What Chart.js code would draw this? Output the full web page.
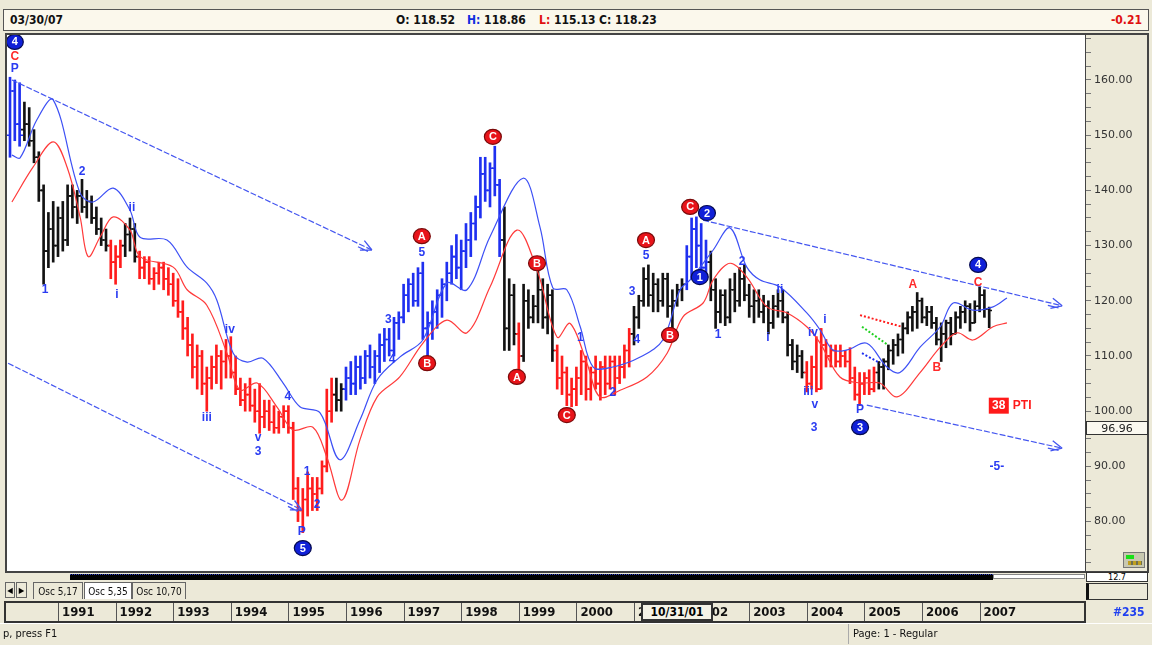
<!DOCTYPE html>
<html><head><meta charset="utf-8">
<script src="https://cdn.jsdelivr.net/npm/chart.js@4.4.1/dist/chart.umd.min.js"></script>
<style>
html,body{margin:0;padding:0;width:1152px;height:645px;overflow:hidden;background:#ECE9D8;}
#wrap{position:relative;width:1152px;height:645px;background:#ECE9D8;font-family:'DejaVu Sans','Liberation Sans',sans-serif;font-stretch:condensed;}
#c{position:absolute;left:0;top:0;}
.ab{position:absolute;white-space:nowrap;}
#hdr{left:3px;top:9px;width:1146px;height:22px;background:#FBF8EC;border:1px solid #555;box-sizing:border-box;font-size:12px;font-weight:bold;color:#111;font-stretch:condensed;}
#hdr span{position:absolute;top:3px;white-space:nowrap;}
.tab{position:absolute;top:582px;height:17px;border:1px solid #666;border-bottom:none;font-size:10px;line-height:17px;padding:0 2px;box-sizing:border-box;background:#ECE9D8;color:#111;white-space:nowrap;overflow:hidden;text-align:center;}
</style></head>
<body><div id="wrap">
<canvas id="c" width="1152" height="645"></canvas>
<div id="hdr" class="ab">
  <span style="left:6px">03/30/07</span>
  <span style="left:392px">O: 118.52</span>
  <span style="left:463px"><b style="color:#1030e0">H:</b> 118.86</span>
  <span style="left:535px"><b style="color:#e01010">L:</b> 115.13</span>
  <span style="left:595px">C: 118.23</span>
  <span style="right:6px;color:#e01010">-0.21</span>
</div>
<div class="ab" style="left:70px;top:574px;width:923px;height:5px;background:#000;border-top:1px dotted #3040c0"></div>
<div class="ab" style="left:993px;top:574px;width:92px;height:5px;background:#fff;border:1px solid #888;box-sizing:border-box"></div>
<div class="ab" style="left:5px;top:582px;width:10px;height:16px;border:1px solid #666;font-size:8px;line-height:16px;text-align:center;box-sizing:border-box">&#9664;</div>
<div class="ab" style="left:16px;top:582px;width:11px;height:16px;border:1px solid #666;font-size:8px;line-height:16px;text-align:center;box-sizing:border-box">&#9654;</div>
<div class="tab" style="left:33px;width:50px">Osc 5,17</div>
<div class="tab" style="left:84px;width:48px;background:#fff">Osc 5,35</div>
<div class="tab" style="left:132px;width:54px">Osc 10,70</div>
<div class="ab" style="left:1086px;top:572px;width:62px;height:10px;border:1px solid #333;font-size:9px;line-height:9px;text-align:center;box-sizing:border-box;background:#fff">12.7</div>
<div class="ab" style="left:1086px;top:583px;width:62px;height:17px;border:1px solid #333;border-left:3px solid #111;box-sizing:border-box"></div>
<div class="ab" style="left:1123px;top:552px;width:22px;height:16px;background:#c8c8b0;border:1px solid #777;box-sizing:border-box;overflow:hidden"><div style="position:absolute;left:2px;top:2px;width:8px;height:4px;background:#18e018"></div><div style="position:absolute;left:4px;top:8px;width:14px;height:4px;background:repeating-linear-gradient(90deg,#c0a020 0 3px,#707050 3px 5px)"></div></div>
<div class="ab" style="left:641px;top:603px;width:72px;height:18px;border:2px solid #333;background:#F4F2E6;font-size:12px;font-weight:bold;line-height:14px;text-align:center;box-sizing:border-box">10/31/01</div>
<div class="ab" style="left:1113px;top:605px;font-size:12px;font-weight:bold;color:#2040f0">#235</div>
<div class="ab" style="left:0;top:623px;width:1152px;height:1px;background:#fff"></div>
<div class="ab" style="left:3px;top:627px;font-size:11px;color:#111">p, press F1</div>
<div class="ab" style="left:848px;top:624px;width:1px;height:20px;background:#aaa"></div>
<div class="ab" style="left:853px;top:627px;font-size:11px;color:#111">Page: 1 - Regular</div>
</div>
<script>
// ---------------- DATA ----------------
const yearLabels = [1991,1992,1993,1994,1995,1996,1997,1998,1999,2000,2001,2002,2003,2004,2005,2006,2007];
const firstBar = '1990-03'; // monthly bars, March 1990 .. March 2007
const openP = [
 150,158,152,151,152,149,146,140,129,133,
 130,135,131,139,137,139,137,138,135,133,131,130,
 127,128,130,132,133,128,126,127,124,125,126,124,
 123,120,118,115,112,108,110,105,106,108,110,109,
 110,107,104,102,103,101,100,99,100,98,97,99,
 100,97,86,82,84,86,85,86,90,100,103,102,
 104,106,105,108,106,110,108,110,112,113,111,116,
 117,121,123,120,125,115,116,118,121,123,125,128,
 126,129,131,134,137,143,140,144,141,131,115,121,
 114,110,120,117,119,122,117,121,111,106,107,103,
 104,106,109,104,107,105,108,105,109,106,108,111,
 114,117,120,124,121,123,120,124,119,120,122,123,
 128,133,130,126,127,122,118,121,117,122,120,124,
 121,119,120,118,119,116,119,120,117,112,109,110,
 107,105,108,104,112,110,111,109,110,109,106,103,
 105,106,104,107,108,109,111,112,113,115,117,118,
 120,117,118,116,113,114,116,114,117,118,119,116,
 119,121,118.52];
const highP = [
 160.5,160,159.5,156,155,151,147,141,136,138,
 137,138,141,141,140,142,140,139,137,135,133,131,
 130,131,134,135,134,129,128,128,126,127,127,126,
 125,124,120,117,114,112,111,108,110,112,111,113,
 113.5,110,106,105,106,104,105,102,102,101,100,101,
 101,98,88,86,89,88,88,91,104,106,106,105,
 108,109,110,110,111,112,111,114,115,115,117,118,
 123,124,125,126,127,118,120,122,124,127,130,132,
 131,134,136,139,146,146,145,148,142,137,124,123,
 116,123,122,121,125.5,124,123,122,112,110,108,106,
 108,111,110,108,110,109,110,110,110,110,112,115,
 119,121,126,126.5,125,124,125,125,122,123,124,130,
 135,135.2,134,131,129,124,122,122,124,125,126,126.5,
 123,122,122,121,120,121,122,122,118,113,112,111,
 109,110,113.5,115,113,112,112,112,111,111.5,108,107,
 107,107.5,108,109,109.5,112,113,114,116,118,119,121.5,
 120.5,119,119,117,116,116.5,117,118,119,120,119.5,120,
 122.5,122,118.86];
const lowP = [
 146,149,148,149,148,145,138,123,126,127,
 128,129,130,135,134,136,135,134,132,130,129,124,
 123,126,128,129,127,124,124,123,122,123,122,121,
 119,117,113,110,106,104,103,100,104,105,104,106,
 106,103,101,100,100,98,96,97,96.5,96,96,97,
 96,84,80,78,81,82,82,85,89,98,100,100,
 102,103,103,104,105,106,105,107,109,110,110,113,
 116,118,119,119,113,110,113,115,117,120,123,124,
 122,126,128,131,135,138,137,139,128,111,111,112,
 106,109,115,116,116,115,114,109,104,103,101,100.8,
 101,103,102,102,104,102,103,104,103,105,106,108,
 112,115,119,119,118,118,119,117,114.5,119,120,122,
 124,126,124,124,120,115,116,115.5,116,118,119,120,
 117,116,117,116,114,115,117,116,110,107.5,107,106,
 103.5,104,103.5,104,108,108,108,108,108,105,102,101,
 103,103,103.5,104,104,107.5,108.5,110,110.5,114,114.5,115,
 116,115.5,115,112,109,111.5,112,114,115,116,114.5,116,
 118,117,115.13];
const closeP = [
 158,152,150,152,149,146,140,129,133,130,
 135,131,139,137,139,137,138,135,133,131,130,127,
 128,130,132,133,128,126,127,124,125,126,124,123,
 120,118,115,112,108,110,105,106,108,110,109,110,
 107,104,102,103,101,100,99,100,98,97,99,100,
 97,86,82,84,86,85,86,90,100,103,102,104,
 106,105,108,106,110,108,110,112,113,111,116,117,
 121,123,120,125,115,116,118,121,123,125,128,126,
 129,131,134,137,143,140,144,141,131,115,121,114,
 110,120,117,119,122,117,121,111,106,107,103,104,
 106,109,104,107,105,108,105,109,106,108,111,114,
 117,120,124,121,123,120,124,119,120,122,123,128,
 133,130,126,127,122,118,121,117,122,120,124,121,
 119,120,118,119,116,119,120,117,112,109,110,107,
 105,108,104,112,110,111,109,110,109,106,103,105,
 106,104,107,108,109,111,112,113,115,117,118,120,
 117,118,116,113,114,116,114,117,118,119,116,119,
 121,118.5,118.23];
// wave colouring: [first month, last month, colour key] (months counted from Jan 1990)
const waveSegments = [[2,4,'b'],[5,22,'k'],[23,25,'r'],[26,28,'k'],[29,69,'r'],[70,71,'k'],[72,104,'b'],[105,107,'k'],[108,108,'r'],[109,115,'k'],[116,131,'r'],[132,142,'k'],[143,147,'b'],[148,167,'k'],[168,182,'r'],[183,206,'k']];
// upper (blue) and lower (red) averages: month position / value
const maBlueM = [2.4,4.1,7.6,11.0,16.6,19.3,23.5,27.0,29.1,34.7,38.9,43.0,45.1,48.5,51.4,54.7,58.9,62.4,66.6,70.7,74.9,78.5,83.2,88.0,93.0,97.2,102.0,108.9,112.4,115.1,118.0,120.8,123.5,127.6,133.3,138.0,141.6,143.7,148.5,152.0,155.5,158.2,162.4,168.0,170.8,173.4,176.4,180.5,184.7,187.4,191.6,195.8,198.5,202.6,206.8,209.7];
const maBlue  = [146.4,145.9,152.8,156.4,139.5,137.9,140.4,136.4,131.5,131.0,126.1,123.2,120.1,110.5,108.9,109.6,105.1,100.8,99.7,91.2,98.4,105.7,109.8,112.9,123.2,122.0,131.6,142.2,133.4,122.3,122.0,115.3,108.0,108.0,109.8,112.9,122.0,123.8,129.2,133.2,126.1,123.8,122.5,117.8,114.7,111.1,111.1,112.3,108.0,107.0,111.6,115.3,119.6,118.3,118.9,120.5];
const maRedM = [2.4,6.8,11.0,13.9,16.6,18.3,20.8,23.5,27.0,29.1,36.0,38.9,43.0,47.2,49.9,53.5,57.6,61.0,65.1,68.0,71.2,74.9,78.5,83.2,88.0,93.0,97.2,102.0,107.6,111.8,116.0,118.7,122.2,124.9,129.1,134.7,138.9,142.2,146.4,148.5,152.0,155.5,159.7,163.9,168.0,170.8,174.9,179.1,183.2,186.8,191.6,195.8,199.3,202.6,206.8,209.7];
const maRed  = [137.9,144.2,148.8,144.2,135.2,128.0,131.6,135.2,132.8,128.0,126.1,122.0,119.2,110.5,103.8,105.1,100.8,96.6,97.1,91.7,83.9,94.8,102.6,106.2,112.3,116.5,114.2,122.5,132.8,125.6,113.4,115.9,108.7,102.6,103.8,106.2,110.5,117.1,119.6,123.8,126.8,124.3,118.9,117.8,115.3,112.3,106.2,105.1,105.1,102.6,107.0,111.6,114.2,112.9,115.3,116.0];
// channel lines: [m0, p0, m1, p1]
const trendLines = [[2.4,160.0,77.4,129.2],[1.6,108.7,62.8,82.1],[146.4,134.6,221.2,119.1],[180.5,101.1,221.2,93.3]];
const projLines = [[179.1,117.4,187.8,115.3,'r'],[179.5,115.3,184.9,112.0,'g'],[179.5,110.5,183.3,108.7,'b']];
// circled wave labels
const waveCircles = [
 [3.0,166.9,'4','b'],[63.0,75.2,'5','b'],[87.8,131.7,'A','r'],[88.9,108.7,'B','r'],[102.6,149.7,'C','r'],
 [107.6,106.2,'A','r'],[111.8,126.8,'B','r'],[118.0,99.3,'C','r'],[134.5,131.0,'A','r'],[139.5,113.8,'B','r'],
 [143.7,137.0,'C','r'],[147.2,135.9,'2','b'],[145.7,124.3,'1','b'],[179.1,97.1,'3','b'],[203.7,126.5,'4','b']];
// plain wave labels
const waveTexts = [
 [3.0,164.2,'C','r'],[3.0,162.0,'P','b'],[9.3,122.0,'1','b'],[17.0,143.3,'2','b'],[24.3,121.1,'i','b'],[27.4,136.8,'ii','b'],
 [43.0,98.8,'iii','b'],[47.8,114.7,'iv','b'],[53.7,95.2,'v','b'],[53.7,92.6,'3','b'],[59.9,102.6,'4','b'],[63.9,89.0,'1','b'],
 [66.0,83.0,'2','b'],[62.8,78.1,'P','b'],[80.8,116.5,'3','b'],[81.6,109.3,'4','b'],[87.8,128.8,'5','b'],[120.8,113.3,'1','b'],
 [127.6,103.3,'2','b'],[131.6,121.6,'3','b'],[132.6,112.9,'4','b'],[134.5,128.1,'5','b'],[149.5,113.8,'1','b'],[154.5,127.0,'2','b'],
 [162.4,122.0,'ii','b'],[159.9,113.4,'i','b'],[169.3,114.2,'iv','b'],[171.8,116.5,'i','b'],[168.3,103.5,'iii','b'],[169.7,101.1,'v','b'],
 [169.5,97.1,'3','b'],[179.1,100.2,'P','b'],[190.1,122.9,'A','r'],[195.1,107.8,'B','r'],[203.7,123.2,'C','r'],[207.6,89.9,'-5-','b']];
const ptiLabel = [208.0, 101.0, '38', 'PTI'];
const lastMark = 96.96;

// ---------------- BUILD ----------------
const [fy, fmo] = firstBar.split('-').map(Number);
const startM = (fy - 1990) * 12 + (fmo - 1);
const barM = openP.map((_, i) => startM + i);
const COL = {b:'#1f30f0', r:'#ff1c1c', k:'#121212', g:'#20d020'};
function colorFor(m){ for (const s of waveSegments) if (m>=s[0] && m<=s[1]) return COL[s[2]]; return COL.k; }
const barColors = barM.map(colorFor);
const yearTicks = yearLabels.map(y => (y - 1990) * 12);

const datasets = [];
datasets.push({type:'line', data: maBlueM.map((m,i)=>({x:m,y:maBlue[i]})), borderColor:'#3d50f5', borderWidth:1.2, pointRadius:0, tension:0.35});
datasets.push({type:'line', data: maRedM.map((m,i)=>({x:m,y:maRed[i]})), borderColor:'#ff3a3a', borderWidth:1.2, pointRadius:0, tension:0.35});
trendLines.forEach(t => datasets.push({type:'line', data:[{x:t[0],y:t[1]},{x:t[2],y:t[3]}], borderColor:'#4456f0', borderWidth:1.2, borderDash:[6,2], pointRadius:0, isTrend:true}));
projLines.forEach(t => datasets.push({type:'line', data:[{x:t[0],y:t[1]},{x:t[2],y:t[3]}], borderColor:COL[t[4]], borderWidth:2, borderDash:[2,2], pointRadius:0}));
const BAR_INDEX = datasets.length;
datasets.push({type:'bar', data: barM.map((m,i)=>({x:m, y:[lowP[i], highP[i]]})), backgroundColor: barColors, borderWidth:0, barThickness:2, grouped:false});

const ohlcPlugin = {
  id:'ohlc',
  afterDatasetDraw(chart, args){
    if (args.index !== BAR_INDEX) return;
    const {ctx, chartArea:a, scales:{x, y}} = chart;
    ctx.save(); ctx.beginPath(); ctx.rect(a.left, a.top, a.right-a.left, a.bottom-a.top); ctx.clip();
    ctx.lineWidth = 1.6;
    barM.forEach((m,i) => {
      const px = Math.round(x.getPixelForValue(m));
      ctx.strokeStyle = barColors[i];
      ctx.beginPath();
      const yo = y.getPixelForValue(openP[i]), yc = y.getPixelForValue(closeP[i]);
      ctx.moveTo(px-3, yo); ctx.lineTo(px, yo);
      ctx.moveTo(px, yc); ctx.lineTo(px+3, yc);
      ctx.stroke();
    });
    ctx.restore();
  }
};

const framePlugin = {
  id:'frame',
  beforeDraw(chart){
    const {ctx, chartArea:a, scales:{x}} = chart;
    ctx.save();
    ctx.fillStyle = '#ffffff'; ctx.fillRect(a.left, a.top, a.right-a.left, a.bottom-a.top);
    ctx.fillStyle = '#ECE9D8'; ctx.fillRect(5, 602, 1080, 20);
    ctx.strokeStyle = '#333'; ctx.lineWidth = 2; ctx.strokeRect(5, 602, 1080, 20);
    ctx.lineWidth = 1; ctx.strokeStyle = '#555';
    yearTicks.forEach(t => { const px = Math.round(x.getPixelForValue(t)) + 0.5; ctx.beginPath(); ctx.moveTo(px, 603); ctx.lineTo(px, 621); ctx.stroke(); });
    ctx.restore();
  },
  afterDraw(chart){
    const {ctx, chartArea:a, scales:{y}} = chart;
    ctx.save();
    ctx.strokeStyle = '#444'; ctx.lineWidth = 2;
    ctx.strokeRect(a.left-1, a.top-1, 1149-a.left, a.bottom-a.top+2);
    ctx.lineWidth = 1; ctx.beginPath(); ctx.moveTo(a.right+0.5, a.top); ctx.lineTo(a.right+0.5, a.bottom); ctx.stroke();
    const ym = Math.round(y.getPixelForValue(lastMark));
    ctx.fillStyle = '#FBF9F0'; ctx.fillRect(a.right+1, ym-7, 62, 14);
    ctx.strokeStyle = '#333'; ctx.strokeRect(a.right+1.5, ym-6.5, 61, 13);
    ctx.fillStyle = '#222'; ctx.font = "11px 'DejaVu Sans'"; ctx.textAlign='center'; ctx.textBaseline='middle';
    ctx.fillText(lastMark.toFixed(2), a.right+32, ym+1);
    ctx.restore();
  }
};

const labelPlugin = {
  id:'labels',
  afterDatasetsDraw(chart){
    const {ctx, chartArea:a, scales:{x, y}} = chart;
    ctx.save();
    ctx.beginPath(); ctx.rect(a.left, a.top, a.right-a.left, a.bottom-a.top); ctx.clip();
    chart.data.datasets.forEach(ds => {
      if (!ds.isTrend) return;
      const p0 = ds.data[0], p1 = ds.data[1];
      const x0 = x.getPixelForValue(p0.x), y0 = y.getPixelForValue(p0.y), x1 = x.getPixelForValue(p1.x), y1 = y.getPixelForValue(p1.y);
      const ang = Math.atan2(y1-y0, x1-x0);
      ctx.strokeStyle = '#4456f0'; ctx.lineWidth = 1.3;
      ctx.beginPath();
      for (const s of [-1,1]) { ctx.moveTo(x1, y1); ctx.lineTo(x1 - 12*Math.cos(ang + s*0.45), y1 - 12*Math.sin(ang + s*0.45)); }
      ctx.moveTo(x1-14*Math.cos(ang)-3*Math.sin(ang), y1-14*Math.sin(ang)+3*Math.cos(ang));
      ctx.lineTo(x1-3*Math.cos(ang)-3*Math.sin(ang), y1-3*Math.sin(ang)+3*Math.cos(ang));
      ctx.stroke();
    });
    ctx.textAlign = 'center'; ctx.textBaseline = 'middle';
    waveTexts.forEach(t => {
      ctx.fillStyle = t[3]==='r' ? '#ff2a2a' : '#2a3cf2';
      ctx.font = "bold 12px 'Liberation Sans', Arial, sans-serif";
      ctx.fillText(t[2], x.getPixelForValue(t[0]), y.getPixelForValue(t[1]));
    });
    waveCircles.forEach(t => {
      const px = x.getPixelForValue(t[0]), py = y.getPixelForValue(t[1]);
      ctx.beginPath(); ctx.ellipse(px, py, 8.5, 7.5, 0, 0, Math.PI*2);
      ctx.fillStyle = t[3]==='r' ? '#e8141a' : '#1020d8'; ctx.fill();
      ctx.lineWidth = 1.2; ctx.strokeStyle = t[3]==='r' ? '#7a0a0a' : '#050a50'; ctx.stroke();
      ctx.fillStyle = '#fff'; ctx.font = "bold 11px 'Liberation Sans', Arial, sans-serif";
      ctx.fillText(t[2], px, py+0.5);
    });
    const bx = x.getPixelForValue(ptiLabel[0]), by = y.getPixelForValue(ptiLabel[1]);
    ctx.fillStyle = '#ff1a1a'; ctx.fillRect(bx-10, by-8, 20, 16);
    ctx.fillStyle = '#fff'; ctx.font = "bold 12px 'Liberation Sans', Arial, sans-serif"; ctx.fillText(ptiLabel[2], bx, by+0.5);
    ctx.fillStyle = '#ff1a1a'; ctx.textAlign = 'left'; ctx.fillText(ptiLabel[3], bx+14, by+0.5);
    ctx.restore();
  }
};

new Chart(document.getElementById('c'), {
  type:'bar',
  data:{datasets},
  plugins:[framePlugin, ohlcPlugin, labelPlugin],
  options:{
    responsive:false, animation:false,
    layout:{padding:{left:7, top:35, right:4, bottom:0}},
    plugins:{legend:{display:false}, tooltip:{enabled:false}},
    scales:{
      x:{type:'linear', position:'bottom', min:1.375, max:225.96, offset:false,
        afterBuildTicks: s => { s.ticks = yearTicks.map(v => ({value:v})); },
        afterFit: s => { s.height = 74; },
        grid:{display:false, offset:false}, border:{display:false},
        ticks:{align:'start', labelOffset:4, padding:26, maxRotation:0, autoSkip:false, color:'#111',
          font:{family:"'Liberation Sans Narrow','DejaVu Sans Condensed','Liberation Sans',sans-serif", size:13, weight:'bold'},
          callback: v => { const k = yearTicks.indexOf(v); return k >= 0 ? String(yearLabels[k]) : ''; }}
      },
      y:{type:'linear', position:'right', min:71.05, max:168.15,
        afterFit: s => { s.width = 63; },
        border:{display:false},
        grid:{drawOnChartArea:false, drawTicks:true, tickLength:6, color:'#777'},
        ticks:{stepSize:2.5, includeBounds:false, autoSkip:false, padding:3, color:'#333',
          font:{family:"'DejaVu Sans', sans-serif", size:11},
          callback: v => (Math.abs(v % 10) < 1e-6 ? v.toFixed(2) : '')}
      }
    }
  }
});
</script>
</body></html>
